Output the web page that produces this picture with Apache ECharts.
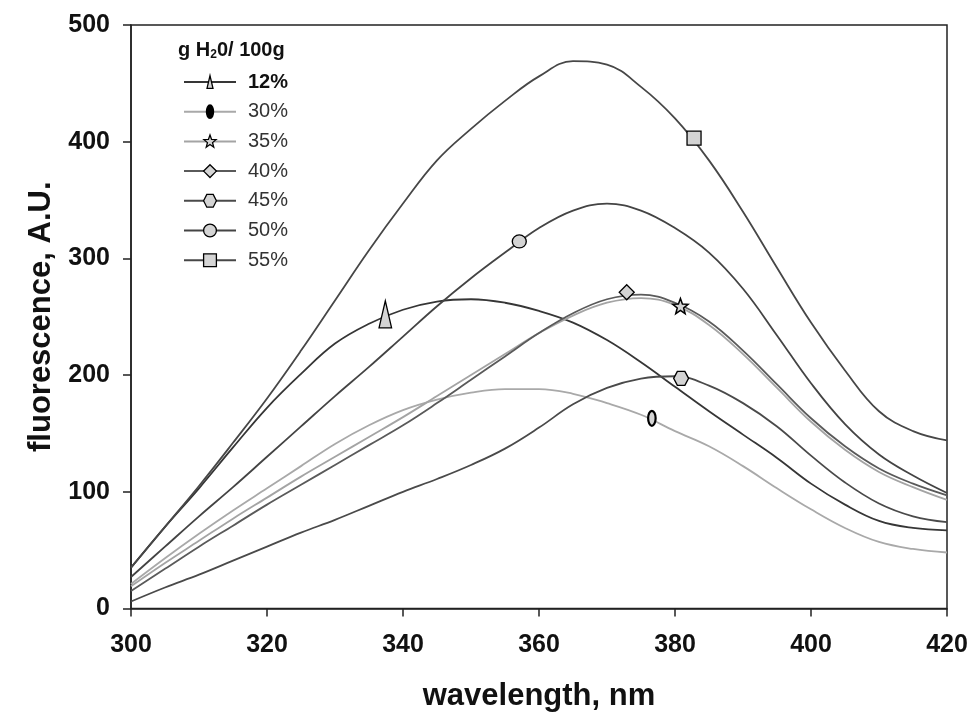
<!DOCTYPE html>
<html><head><meta charset="utf-8">
<script src="https://cdn.jsdelivr.net/npm/echarts@6/dist/echarts.min.js"></script>
<style>html,body{margin:0;padding:0;background:#fff}#c{width:971px;height:720px}</style>
</head><body><div id="c"></div>
<script>
// ---- data ----
const wavelength = [300,305,310,315,320,325,330,335,340,345,350,355,360,365,370,375,380,385,390,395,400,405,410,415,420];
const w12 = [35,70,103,138,172,201,227,244,256,263,265,262,255,245,230,211,190,169,149,129,107,89,75,69,67];
const w30 = [21,43,64,84,103,122,141,157,170,179,185,188,188,184,176,166,152,139,122,103,85,69,57,51,48];
const w35 = [19,39,58,77,95,113,130,147,164,182,200,218,236,251,262,266,260,243,218,189,160,136,117,104,93];
const w40 = [15,34,53,71,89,106,123,140,157,176,196,216,236,253,265,269,262,246,221,192,163,139,120,107,97];
const w45 = [6,18,29,41,53,65,76,88,100,111,123,137,155,175,189,197,199,191,176,156,131,108,90,79,74];
const w50 = [27,53,79,104,130,156,182,207,233,259,283,305,326,341,347,341,326,305,274,234,193,158,132,114,99];
const w55 = [35,70,105,142,180,221,264,307,347,384,411,435,456,469,466,447,420,384,340,292,245,204,169,152,144];
const seriesNames = ['12%','30%','35%','40%','45%','50%','55%'];
const markerX = [337.4, 376.6, 380.8, 372.9, 380.9, 357.1, 382.8];
const markerY = [252, 163, 258.8, 271, 197.2, 314.5, 403];
const xTicks = {min:300, max:420, step:20};
const yTicks = {min:0, max:500, step:100};

// ---- styles ----
const curves = [w12,w30,w35,w40,w45,w50,w55];
const lineColors = ['#363636','#a9a9a9','#a4a4a4','#5a5a5a','#4a4a4a','#444444','#474747'];
const TRI = 'path://M0,0 M28,28 M14,0 L20.5,28 L7.5,28 Z';
const ELL = 'path://M0,0 M20,20 M10,0 A5,10 0 1,1 10,20 A5,10 0 1,1 10,0 Z';
const STAR = 'path://M0,0 M20,19 M10,0 L12.47,6.6 L19.51,6.91 L13.99,11.3 L15.88,18.09 L10,14.2 L4.12,18.09 L6.01,11.3 L0.49,6.91 L7.53,6.6 Z';
const HEX = 'path://M0,7 L4,0 L12,0 L16,7 L12,14 L4,14 Z';
const symbols = [TRI, ELL, STAR, 'diamond', HEX, 'circle', 'rect'];
const symbolSizes = [27, 15, 16, 15, [15,14], [14,13], 14];
const borderWidths = [1.3, 2.2, 1.5, 1.3, 1.3, 1.3, 1.3];
const FONT = '"Liberation Sans", Arial, sans-serif';

const series = [];
seriesNames.forEach((n,i)=>{
  series.push({
    type:'line', name:n, smooth:0.4, showSymbol:false, symbol:symbols[i],
    data: wavelength.map((w,j)=>[w, curves[i][j]]),
    lineStyle:{color:lineColors[i], width:1.8},
    itemStyle:{color:'#d4d4d4', borderColor:'#000', borderWidth:borderWidths[i]},
    emphasis:{disabled:true}, z:2
  });
});
seriesNames.forEach((n,i)=>{
  series.push({
    type:'scatter', name:n+' marker', symbol:symbols[i], symbolSize:symbolSizes[i],
    data:[[markerX[i], markerY[i]]],
    itemStyle:{color:'#d4d4d4', borderColor:'#000', borderWidth:borderWidths[i], opacity:1},
    emphasis:{disabled:true}, z:5
  });
});

const chart = echarts.init(document.getElementById('c'), null, {renderer:'canvas'});
chart.setOption({
  animation:false,
  backgroundColor:'#fff',
  title:{
    text:'g H{s|2}0/ 100g', left:173, top:34,
    textStyle:{fontSize:20, fontWeight:'bold', color:'#111', fontFamily:FONT,
      rich:{s:{fontSize:12, fontWeight:'bold', color:'#111', fontFamily:FONT, padding:[10,0,0,0]}}}
  },
  legend:{
    orient:'vertical', left:178, top:67, itemWidth:52, itemHeight:16, itemGap:9.7,
    selectedMode:false,
    textStyle:{fontSize:20, color:'#333', fontFamily:FONT, padding:[0,0,0,7]},
    itemStyle:{borderColor:'#000', borderWidth:1.3},
    data: seriesNames.map((n,i)=>{
      const d = {name:n};
      if(i===0) d.textStyle = {fontWeight:'bold', color:'#111'};
      if(i===1) d.itemStyle = {color:'#000', borderWidth:2};
      return d;
    })
  },
  grid:{left:131, right:24, top:25, bottom:111.5, show:true, borderColor:'#222', borderWidth:1.5, backgroundColor:'transparent'},
  xAxis:{
    type:'value', min:xTicks.min, max:xTicks.max, interval:xTicks.step,
    axisLine:{show:true, onZero:false, lineStyle:{color:'#222', width:1.5}},
    axisTick:{show:true, length:8, lineStyle:{color:'#222', width:1.5}},
    splitLine:{show:false},
    axisLabel:{fontSize:25, fontWeight:'bold', color:'#111', margin:24, fontFamily:FONT, showMinLabel:true, showMaxLabel:true},
    name:'wavelength, nm', nameLocation:'middle', nameGap:72,
    nameTextStyle:{fontSize:31, fontWeight:'bold', color:'#111', fontFamily:FONT}
  },
  yAxis:{
    type:'value', min:yTicks.min, max:yTicks.max, interval:yTicks.step,
    axisLine:{show:true, lineStyle:{color:'#222', width:1.5}},
    axisTick:{show:true, length:8, lineStyle:{color:'#222', width:1.5}},
    splitLine:{show:false},
    axisLabel:{fontSize:25, fontWeight:'bold', color:'#111', margin:21, fontFamily:FONT},
    name:'fluorescence, A.U.', nameLocation:'middle', nameGap:73,
    nameTextStyle:{fontSize:31, fontWeight:'bold', color:'#111', fontFamily:FONT}
  },
  series: series
});
</script></body></html>
